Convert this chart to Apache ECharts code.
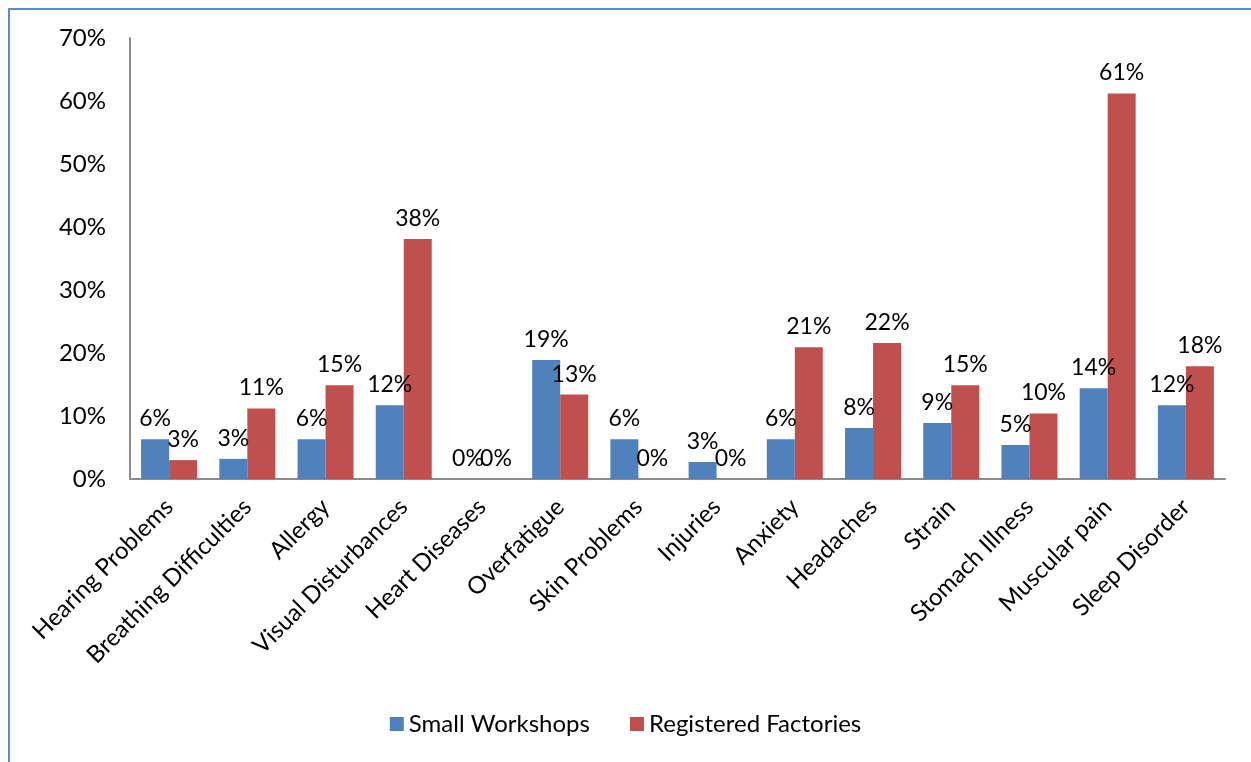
<!DOCTYPE html>
<html>
<head>
<meta charset="utf-8">
<script src="https://cdn.jsdelivr.net/npm/echarts@6/dist/echarts.min.js"></script>
<style>
  html, body { margin: 0; padding: 0; background: #fff; }
  #frame { position: absolute; left: 8px; top: 8px; width: 1300px; height: 800px;
           border-left: 2px solid #5b8ccb; border-top: 2px solid #5b8ccb; }
  #chart { position: absolute; left: 0; top: 0; width: 1251px; height: 762px; }
</style>
</head>
<body>
<div id="frame"></div>
<div id="chart"></div>
<script>
// 数据
const categories = ["Hearing Problems", "Breathing Difficulties", "Allergy", "Visual Disturbances",
  "Heart Diseases", "Overfatigue", "Skin Problems", "Injuries", "Anxiety", "Headaches",
  "Strain", "Stomach Illness", "Muscular pain", "Sleep Disorder"];
const smallWorkshops = [6.3, 3.2, 6.3, 11.7, 0, 18.9, 6.3, 2.7, 6.3, 8.1, 8.9, 5.4, 14.4, 11.7];
const registeredFactories = [3.0, 11.2, 14.9, 38.1, 0, 13.4, 0, 0, 20.9, 21.6, 14.9, 10.4, 61.2, 17.9];
const yTicks = [0, 10, 20, 30, 40, 50, 60, 70];

const font = "Lato, 'Open Sans', sans-serif";

const myChart = echarts.init(document.getElementById("chart"));

let labelOpt = {
  show: true,
  position: "top",
  distance: 9,
  color: "#000",
  fontSize: 23,
  fontFamily: font,
  formatter: (p) => Math.round(p.value) + "%",
};

myChart.setOption({
  animation: false,
  grid: { left: 130, right: 26, top: 38, bottom: 283 },
  legend: {
    bottom: 21,
    left: "center",
    itemWidth: 14,
    itemHeight: 14,
    itemGap: 40,
    icon: "rect",
    textStyle: { fontSize: 24, fontFamily: font, color: "#000" },
    data: ["Small Workshops", "Registered Factories"],
  },
  xAxis: {
    type: "category",
    data: categories,
    axisLine: { lineStyle: { color: "#8c8c8c", width: 2 } },
    axisTick: { show: false },
    axisLabel: {
      rotate: 45,
      interval: 0,
      margin: 24,
      fontSize: 24,
      fontFamily: font,
      color: "#000",
    },
  },
  yAxis: {
    type: "value",
    min: 0,
    max: 70,
    interval: 10,
    splitLine: { show: false },
    axisLine: { show: true, lineStyle: { color: "#8c8c8c", width: 2 } },
    axisTick: { show: false },
    axisLabel: {
      margin: 24,
      fontSize: 24,
      fontFamily: font,
      color: "#000",
      formatter: (v) => (yTicks.includes(v) ? v + "%" : ""),
    },
  },
  series: [
    {
      name: "Small Workshops",
      type: "bar",
      data: smallWorkshops,
      barWidth: 28,
      barGap: "0%",
      itemStyle: { color: "#4f81bd" },
      label: labelOpt,
    },
    {
      name: "Registered Factories",
      type: "bar",
      data: registeredFactories,
      barWidth: 28,
      itemStyle: { color: "#c0504d" },
      label: labelOpt,
    },
  ],
});
</script>
</body>
</html>
